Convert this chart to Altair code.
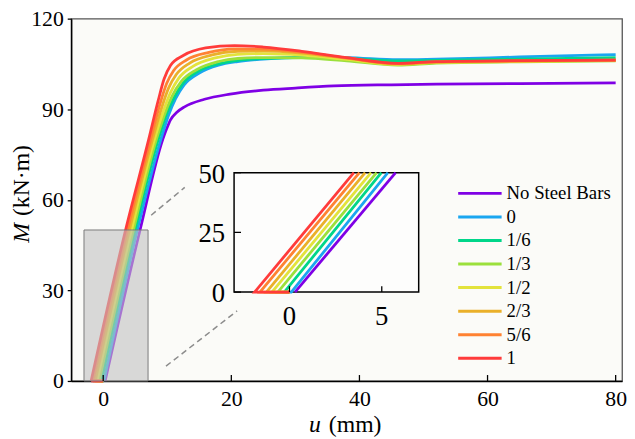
import altair as alt
import pandas as pd

FONT = "'Liberation Serif', 'Times New Roman', 'DejaVu Serif', serif"

series_names = ["No Steel Bars", "0", "1/6", "1/3", "1/2", "2/3", "5/6", "1"]
series_colors = ["#7f00e5", "#1aa6f0", "#00d68a", "#9be03c", "#e3e33c", "#eab02a", "#ff8232", "#ff3b3b"]

x_ticks = [0, 20, 40, 60, 80]
y_ticks = [0, 30, 60, 90, 120]
inset_x_ticks = [0, 5]
inset_y_ticks = [0, 25, 50]

# curves (u in mm, M in kN·m)
u_nosteel = [0.3, 5.75, 9.3, 9.9, 10.5, 11.5, 12.7, 15.8, 19.8, 25, 30, 36, 45, 52, 65, 80]
M_nosteel = [0, 50, 80, 83.5, 86.5, 89, 90.8, 93.3, 95, 96.3, 97, 97.7, 98.1, 98.3, 98.5, 98.7]

u_0 = [0, 0.1, 5.33, 9.0, 10.2, 11.3, 12.6, 15, 18, 21, 25, 31, 38, 46, 52, 65, 80]
M_0 = [0, 0, 50, 80, 88, 93.5, 98, 102, 104.6, 105.8, 106.6, 107.2, 107.1, 106.4, 106.6, 107.3, 108.1]

u_1_6 = [0, -0.28, 4.98, 8.6, 10.0, 11.1, 12.5, 15, 18, 21, 25, 31, 38, 46, 52, 65, 80]
M_1_6 = [0, 0, 50, 80, 89, 94, 98.7, 102.8, 105, 106.2, 106.8, 107.1, 106.8, 106, 106.2, 106.6, 107.1]

u_1_3 = [0, -0.63, 4.72, 8.3, 9.8, 10.8, 12.2, 14.5, 18, 21, 25, 31, 38, 46, 52, 65, 80]
M_1_3 = [0, 0, 50, 80, 89.5, 94.5, 99.2, 103, 105.8, 106.8, 107.1, 107, 106, 104.6, 105.3, 105.7, 106.0]

u_1_2 = [0, -0.95, 4.42, 8.0, 9.5, 10.5, 11.8, 14, 17.5, 21, 25, 31, 38, 46, 52, 65, 80]
M_1_2 = [0, 0, 50, 80, 90, 95.5, 100.3, 104.2, 107, 108.2, 108.4, 107.9, 106.5, 104.8, 105.5, 105.8, 106.2]

u_2_3 = [0, -1.25, 4.1, 7.7, 9.2, 10.2, 11.4, 13.5, 17, 21, 25, 31, 38, 46, 52, 65, 80]
M_2_3 = [0, 0, 50, 80, 91, 97, 101.5, 105.3, 108, 109.2, 109.3, 108.6, 106.9, 105, 105.6, 105.9, 106.3]

u_5_6 = [0, -1.6, 3.79, 7.4, 8.9, 9.9, 11, 13, 16.5, 20.5, 25, 31, 38, 46, 52, 65, 80]
M_5_6 = [0, 0, 50, 80, 92, 98.5, 102.8, 106.3, 108.8, 110.0, 109.9, 108.9, 107, 105.1, 105.7, 106, 106.3]

u_1 = [0, -1.89, 3.49, 7.1, 8.6, 9.5, 10.5, 12.5, 16, 20.5, 25, 31, 38, 46, 52, 65, 80]
M_1 = [0, 0, 50, 80, 93, 100, 104.5, 107.8, 110.3, 111.1, 110.6, 109.2, 107.1, 105.2, 105.8, 106.1, 106.3]

all_u = [u_nosteel, u_0, u_1_6, u_1_3, u_1_2, u_2_3, u_5_6, u_1]
all_M = [M_nosteel, M_0, M_1_6, M_1_3, M_1_2, M_2_3, M_5_6, M_1]

zoom_box_u = [-3, 7]
zoom_box_M = [0, 50]
dash1_u = [7.49, 12.73]
dash1_M = [54.9, 64.1]
dash2_u = [9.8, 20.9]
dash2_M = [4.9, 23.2]

y_title = ["M", "(kN·m)"]
x_title = ["u", "(mm)"]

W, H = 558, 367

rows = []
for name, us, ms in zip(series_names, all_u, all_M):
    for i, (a, b) in enumerate(zip(us, ms)):
        rows.append(dict(series=name, u=a, M=b, idx=i))
df = pd.DataFrame(rows)

# ---------- main group ----------
mx = alt.X("u:Q", scale=alt.Scale(domain=[-5, 81], nice=False, zero=False),
           axis=alt.Axis(values=x_ticks, tickSize=0, labelPadding=8, title=None))
my = alt.Y("M:Q", scale=alt.Scale(domain=[0, 120], nice=False, zero=False),
           axis=alt.Axis(values=y_ticks, tickSize=4, labelPadding=4, title=None))

main_layers = []
for name, col in zip(series_names, series_colors):
    d = df[df.series == name]
    steel = name != "No Steel Bars"
    if steel:
        pre = d[d.idx <= 1]
        main_layers.append(alt.Chart(pre).mark_line(color=col, strokeWidth=2.8).encode(
            x=mx, y=my, order=alt.Order("idx:Q")))
        cur = d[d.idx >= 1]
    else:
        cur = d
    main_layers.append(alt.Chart(cur).mark_line(color=col, strokeWidth=2.8, interpolate="monotone").encode(
        x=mx, y=my, order=alt.Order("idx:Q")))

box_df = pd.DataFrame({"u": [zoom_box_u[0]], "u2": [zoom_box_u[1]], "M": [zoom_box_M[0]], "M2": [zoom_box_M[1]]})
main_layers.append(alt.Chart(box_df).mark_rect(fill="#c2c2c2", fillOpacity=0.6, stroke="#7a7a7a", strokeWidth=1).encode(
    x=mx, x2="u2:Q", y=my, y2="M2:Q"))

for du, dm in [(dash1_u, dash1_M), (dash2_u, dash2_M)]:
    main_layers.append(alt.Chart(pd.DataFrame({"u": du, "M": dm})).mark_line(
        color="#8c8c8c", strokeWidth=1.5, strokeDash=[6, 4]).encode(x=mx, y=my))

main_layers.append(alt.Chart(pd.DataFrame({"u": x_ticks, "M": [0] * len(x_ticks)})).mark_rule(
    color="black", strokeWidth=1.3, y2Offset=-6).encode(x=mx, y=my, y2="M:Q"))

# axis titles (italic symbol + upright unit)
main_layers.append(alt.Chart(pd.DataFrame({"t": [y_title[0]]})).mark_text(
    font=FONT, fontSize=24, fontStyle="italic", angle=270, align="right", baseline="middle", color="black").encode(
    text="t:N", x=alt.value(-50), y=alt.value(207)))
main_layers.append(alt.Chart(pd.DataFrame({"t": [y_title[1]]})).mark_text(
    font=FONT, fontSize=24, angle=270, align="left", baseline="middle", color="black").encode(
    text="t:N", x=alt.value(-50), y=alt.value(200)))
main_layers.append(alt.Chart(pd.DataFrame({"t": [x_title[0]]})).mark_text(
    font=FONT, fontSize=24, fontStyle="italic", align="right", baseline="middle", color="black").encode(
    text="t:N", x=alt.value(253), y=alt.value(412)))
main_layers.append(alt.Chart(pd.DataFrame({"t": [x_title[1]]})).mark_text(
    font=FONT, fontSize=24, align="left", baseline="middle", color="black").encode(
    text="t:N", x=alt.value(261), y=alt.value(412)))

main_group = alt.layer(*main_layers)

# ---------- inset group ----------
ix = alt.X("u:Q", scale=alt.Scale(domain=[-3, 7], range=[165, 352], nice=False, zero=False), axis=None)
iy = alt.Y("M:Q", scale=alt.Scale(domain=[0, 50], range=[277, 156], nice=False, zero=False), axis=None)

inset_layers = [alt.Chart(box_df).mark_rect(fill="#fdfdfc", stroke="black", strokeWidth=1.5).encode(
    x=ix, x2="u2:Q", y=iy, y2="M2:Q")]
for name, col in zip(series_names, series_colors):
    d = df[(df.series == name) & (df.M <= 50)]
    inset_layers.append(alt.Chart(d).mark_line(color=col, strokeWidth=2.8).encode(
        x=ix, y=iy, order=alt.Order("idx:Q")))

ixt = pd.DataFrame({"u": inset_x_ticks, "M": [0] * len(inset_x_ticks), "t": [str(v) for v in inset_x_ticks]})
iyt = pd.DataFrame({"M": inset_y_ticks, "u": [-3] * len(inset_y_ticks), "t": [str(v) for v in inset_y_ticks]})
inset_layers.append(alt.Chart(ixt).mark_rule(color="black", strokeWidth=1.3, y2Offset=-6).encode(
    x=ix, y=iy, y2="M:Q"))
inset_layers.append(alt.Chart(iyt).mark_rule(color="black", strokeWidth=1.3, x2Offset=7).encode(
    y=iy, x=ix, x2="u:Q"))
inset_layers.append(alt.Chart(ixt).mark_text(
    font=FONT, fontSize=27, color="black", baseline="middle", dy=25).encode(x=ix, y=iy, text="t:N"))
inset_layers.append(alt.Chart(iyt).mark_text(
    font=FONT, fontSize=27, color="black", align="right", baseline="middle", dx=-9, dy=2).encode(y=iy, x=ix, text="t:N"))

inset_group = alt.layer(*inset_layers)

# ---------- legend ----------
leg_df = pd.DataFrame({"series": series_names, "a": [0] * 8, "b": [1] * 8})
lx = alt.X("a:Q", scale=alt.Scale(domain=[0, 1], range=[392, 436]), axis=None)
ly = alt.Y("series:N", scale=alt.Scale(type="point", domain=series_names, range=[177, 344], padding=0), axis=None)
lc = alt.Color("series:N", scale=alt.Scale(domain=series_names, range=series_colors), legend=None)
legend_rules = alt.Chart(leg_df).mark_rule(strokeWidth=3).encode(
    y=ly, x=lx, x2="b:Q", color=lc)
legend_text = alt.Chart(leg_df).mark_text(font=FONT, fontSize=19, color="black", align="left", baseline="middle", dx=5).encode(
    y=ly, x=alt.X("b:Q", scale=alt.Scale(domain=[0, 1], range=[392, 436]), axis=None), text="series:N")
legend_group = alt.layer(legend_rules, legend_text)

chart = alt.layer(main_group, inset_group, legend_group).resolve_scale(
    x="independent", y="independent"
).properties(
    width=W, height=H, autosize="none",
    padding={"left": 64, "top": 8, "right": 5, "bottom": 56},
    background="white",
).configure_view(
    fill="#fbfbf8", stroke="#555555", strokeWidth=1.3
).configure_axis(
    labelFont=FONT, labelFontSize=22, labelColor="black", domainColor="black", domainWidth=1.5,
    tickColor="black", tickWidth=1.3, grid=False, labelFlush=False
)

chart.save("out.html", embed_options={"renderer": "svg", "actions": False})
